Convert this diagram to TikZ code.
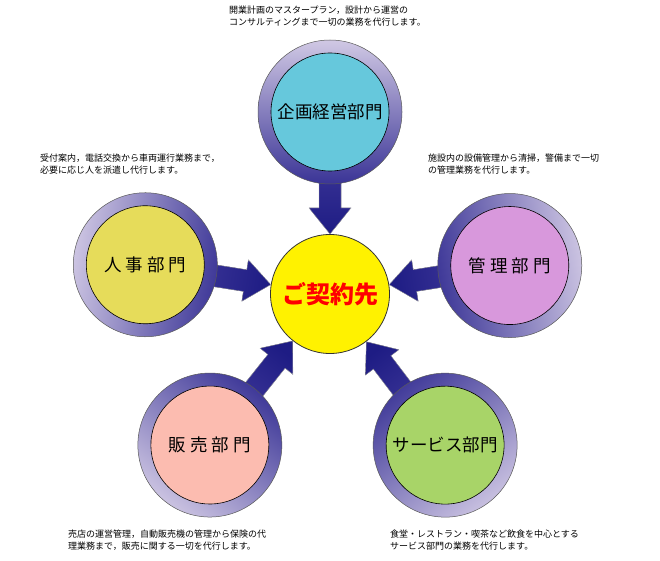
\documentclass[tikz,border=0pt]{standalone}
\usepackage{fontspec}
\setmainfont{Noto Sans CJK JP}
\begin{document}
\begin{tikzpicture}[x=1pt,y=1pt,
  captxt/.style={anchor=north west,inner sep=0pt,align=left,font=\fontsize{9}{12}\selectfont},
  lab/.style={font=\fontsize{17.5}{22}\selectfont},
  ringfill/.style={top color=ringlight,bottom color=ringdark,draw=gray!70!black,line width=0.5pt},
  arrowfill/.style={top color=ringdark,bottom color=arrdark,draw=gray!60,line width=0.3pt}]
\definecolor{ringdark}{HTML}{3A3496}
\definecolor{ringlight}{HTML}{D0C8E4}
\definecolor{arrdark}{HTML}{1E1C84}
\useasboundingbox[fill=white] (0,0) rectangle (660,560);
\coordinate (C) at (330,266);
\foreach \ang/\dist/\col/\nm in {90/182/66C8DC/top,171/187/E6DC5A/left,9/182/D898DC/right,231.5/193/FCBCB0/bl,307.3/190/A8D468/br}{
  \pgfmathsetmacro{\sa}{\ang-90}
  \begin{scope}[shift={(C)},rotate=\ang]
    \fill[arrowfill,shading angle=\sa] (60,0) -- (86,-21) -- (86,-11) -- (\dist-50,-11) -- (\dist-50,11) -- (86,11) -- (86,21) -- cycle;
    \definecolor{inner}{HTML}{\col}
    \path[ringfill,shading angle=\sa] (\dist,0) circle (72);
    \path[fill=inner,draw=black,line width=0.6pt] (\dist,0) circle (59);
    \coordinate (\nm) at (\dist,0);
  \end{scope}
}
\node[circle,minimum size=119pt,fill=yellow,draw=black!80,line width=0.8pt,text=red,font=\bfseries\fontsize{24}{28}\selectfont] (center) at (C) {ご契約先};
\node[lab] (ntop) at (top) {企画経営部門};
\node[lab] (nleft) at (left) {人 事 部 門};
\node[lab] (nright) at (right) {管 理 部 門};
\node[lab] (nbl) at (bl) {販 売 部 門};
\node[lab] (nbr) at (br) {サービス部門};
\node[captxt] (c1) at (229,554) {開業計画のマスタープラン，設計から運営の\\コンサルティングまで一切の業務を代行します。};
\node[captxt] (c2) at (40,406) {受付案内，電話交換から車両運行業務まで，\\必要に応じ人を派遣し代行します。};
\node[captxt] (c3) at (428,406) {施設内の設備管理から清掃，警備まで一切\\の管理業務を代行します。};
\node[captxt] (c4) at (68,30) {売店の運営管理，自動販売機の管理から保険の代\\理業務まで，販売に関する一切を代行します。};
\node[captxt] (c5) at (390,30) {食堂・レストラン・喫茶など飲食を中心とする\\サービス部門の業務を代行します。};
\end{tikzpicture}
\end{document}
